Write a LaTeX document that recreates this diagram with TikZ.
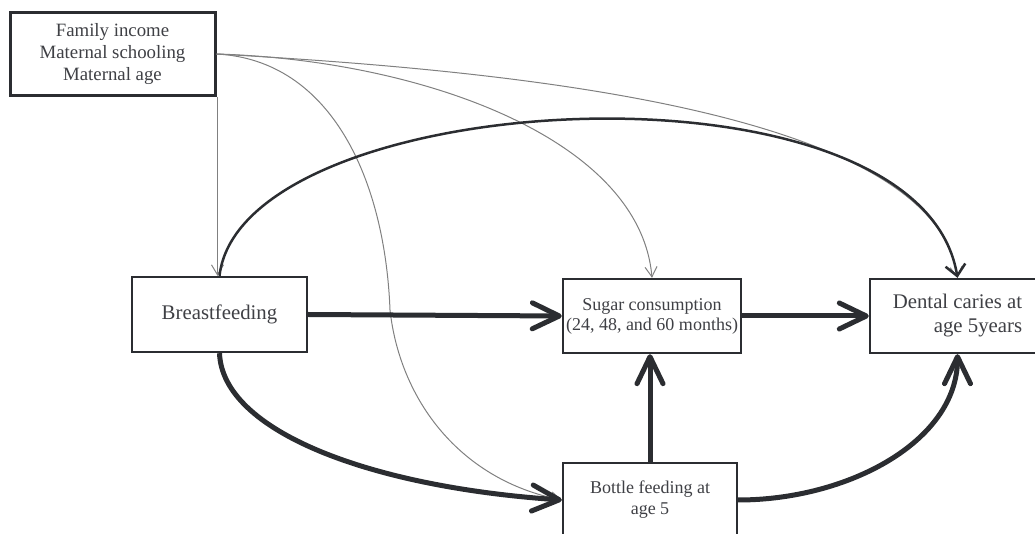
\documentclass[tikz,border=0pt]{standalone}
\usepackage{fontspec}
\setmainfont{Liberation Serif}
\usepackage{xcolor}
\usetikzlibrary{arrows.meta}
\definecolor{boxline}{HTML}{2B2D31}
\definecolor{thinline}{HTML}{808080}
\definecolor{labeltext}{HTML}{3F4045}

\begin{document}
\begin{tikzpicture}[x=0.5pt, y=-0.5pt,
    factor/.style={draw=boxline, line width=1.2pt, fill=white, inner sep=0pt, align=center, text=labeltext},
    mainpath/.style={draw=boxline, line width=2.5pt, -{Straight Barb[length=13.5pt,width=13pt,round]}},
    arcpath/.style={draw=boxline, line width=1.25pt, -{Straight Barb[length=5.5pt,width=10pt]}},
    confpath/.style={draw=thinline, line width=0.5pt, -{Straight Barb[length=5pt,width=6pt]}}
]
\useasboundingbox (0,0) rectangle (1035,534);
\clip (0,0) rectangle (1035,534);

\node[factor, line width=1.5pt, minimum width=102.5pt, minimum height=41.5pt, font=\fontsize{9.4}{10.8}\selectfont] (conf) at (112.5,54) {Family income\\Maternal schooling\\Maternal age};
\node[factor, minimum width=87.5pt, minimum height=37.5pt, font=\fontsize{10.4}{12}\selectfont] (breast) at (219.5,314.5) {Breastfeeding};
\node[factor, minimum width=89pt, minimum height=37pt, font=\fontsize{9}{10}\selectfont] (sugar) at (652,316) {Sugar consumption\\(24, 48, and 60 months)};
\node[factor, align=right, minimum width=87.5pt, minimum height=37pt, font=\fontsize{10.4}{12}\selectfont] (dental) at (957.5,316) {Dental caries at\\age 5years};
\node[factor, minimum width=87pt, minimum height=37pt, font=\fontsize{9}{10.5}\selectfont] (bottle) at (650,500) {Bottle feeding at\\age 5};

% confounders
\draw[confpath] ([xshift=-1pt]breast.north |- conf.south) -- ([xshift=-1pt]breast.north);
\draw[confpath] (conf.east) .. controls +(205,6) and +(-12,-139) .. (sugar.north);
\draw[confpath] (conf.east) .. controls +(285,16) and +(-22.5,-169) .. (dental.north);
\draw[confpath] (conf.east) .. controls +(115,6) and (385,180) .. (390,310)
    .. controls (400,400) and (460,480) .. (bottle.west);

% breastfeeding to caries
\draw[arcpath] (breast.north) .. controls +(22,-190) and +(-38,-230) .. (dental.north);

% main paths
\draw[mainpath] (breast.east) -- (sugar.west);
\draw[mainpath] (sugar.east) -- (dental.west);
\draw[mainpath] (bottle.north) -- (bottle.north |- sugar.south);
\draw[mainpath] (breast.south) .. controls +(3,78) and +(-192,-13) .. (bottle.west);
\draw[mainpath] (bottle.east) .. controls +(110,0) and +(0,87) .. (dental.south);
\end{tikzpicture}
\end{document}
